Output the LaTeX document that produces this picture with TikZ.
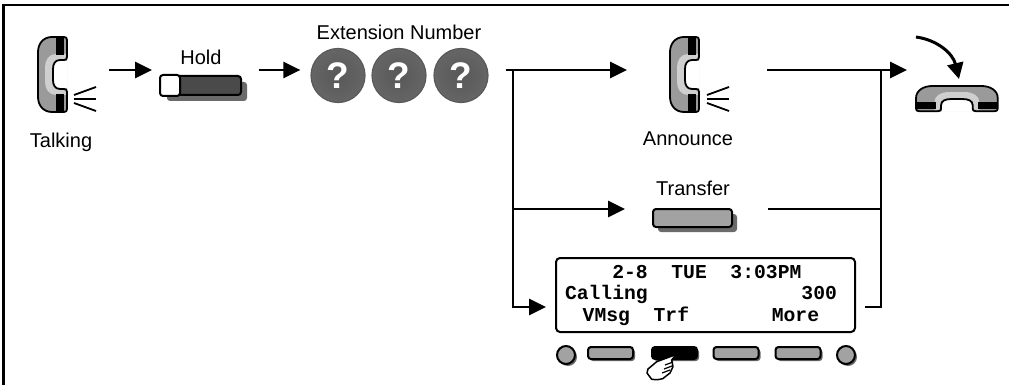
\documentclass[tikz,border=0pt]{standalone}
\usepackage{fontspec}
\setmainfont{Liberation Sans}
\setmonofont{Liberation Mono}
\usetikzlibrary{arrows.meta}
\usetikzlibrary{shadows}

\definecolor{bodygray}{HTML}{9A9A9A}
\definecolor{stripgray}{HTML}{CFCFCF}
\definecolor{keygray}{HTML}{A2A2A2}
\definecolor{holddark}{HTML}{4A4A4A}
\definecolor{ballgray}{HTML}{585858}
\definecolor{shadegray}{HTML}{6A6A6A}

\tikzset{
  flow/.style = {line width=2.8pt, -{Triangle[length=17pt,width=16pt]}},
  wire/.style = {line width=2.3pt},
  ghost/.style = {inner sep=0pt, outer sep=0pt},
  caption/.style = {anchor=base, inner sep=0pt, font=\fontsize{20}{23}\selectfont},
  keycap/.style = {draw=black, line width=2pt, rounded corners=3pt, inner sep=0pt,
    drop shadow={shadow xshift=#1, shadow yshift=-#1, fill=shadegray, opacity=1}},
  softkey/.style = {keycap=2pt, fill=keygray, minimum width=45pt, minimum height=12pt},
  softdot/.style = {keycap=2pt, circle, rounded corners=0pt, fill=keygray, minimum size=18pt},
  qball/.style = {circle, inner color=ballgray, outer color=ballgray!92!white, draw=black!65, line width=1.2pt,
    inner sep=0pt, minimum size=54pt, text=white, font=\fontsize{37}{37}\selectfont\bfseries},
  handset/.pic = {
    \fill[bodygray]
      (14,0) -- (26,0) .. controls (28,0) and (29,1) .. (29,3) -- (29,72)
      .. controls (29,74) and (28,75) .. (26,75) -- (14,75)
      .. controls (5,75) and (0,68) .. (0,60) -- (0,15)
      .. controls (0,7) and (5,0) .. (14,0) -- cycle;
    \fill[stripgray]
      (28,17) -- (18,17) .. controls (11,17) and (7,23) .. (7,30) -- (7,45)
      .. controls (7,52) and (11,58) .. (18,58) -- (28,58) -- (28,52) -- (22,52)
      .. controls (17,52) and (15,48) .. (15,43) -- (15,32)
      .. controls (15,27) and (17,23) .. (22,23) -- (28,23) -- cycle;
    \fill[black] (18,0) rectangle (26,18);
    \fill[black] (18,57) rectangle (26,75);
    \fill[white] (29.5,23.8) -- (22,23.8) .. controls (17,23.8) and (15.8,27) .. (15.8,32) -- (15.8,43)
      .. controls (15.8,48) and (17,51.2) .. (22,51.2) -- (29.5,51.2) -- cycle;
    \draw[line width=1.8pt, line join=round]
      (14,0) -- (26,0) .. controls (28,0) and (29,1) .. (29,3) -- (29,20)
      .. controls (29,22) and (28,23) .. (26,23) -- (22,23)
      .. controls (17,23) and (15,27) .. (15,32) -- (15,43)
      .. controls (15,48) and (17,52) .. (22,52) -- (26,52)
      .. controls (28,52) and (29,53) .. (29,55) -- (29,72)
      .. controls (29,74) and (28,75) .. (26,75) -- (14,75)
      .. controls (5,75) and (0,68) .. (0,60) -- (0,15)
      .. controls (0,7) and (5,0) .. (14,0) -- cycle;
  },
  voicelines/.pic = {
    \draw[line width=1.8pt] (0,8) -- (22,0);
    \draw[line width=1.8pt] (0,12) -- (22,12);
    \draw[line width=1.8pt] (0,16) -- (22,24);
  }
}

\begin{document}
\begin{tikzpicture}[x=1pt,y=-1pt]
  \useasboundingbox (0,0) rectangle (1009,385);
  % frame
  \draw[line width=2.2pt] (3.5,385) -- (3.5,5) -- (1009,5);

  \coordinate (rowa) at (0,70);
  \coordinate (rowb) at (0,209);
  \coordinate (rowc) at (0,307);
  \coordinate (split) at (513,70);
  \coordinate (merge) at (881,70);
  \coordinate (swingstart) at (916,37);
  \coordinate (swingend) at (959,79);

  % the stations
  \node[ghost, minimum width=72pt, minimum height=75pt] (talk) at (73,74.5) {};
  \pic at (38,37) {handset};
  \pic at (74,87) {voicelines};
  \node[caption] (talktext) at (61,147) {Talking};

  \node[keycap=6pt, fill=holddark, minimum width=80pt, minimum height=19pt] (hold) at (201,85.5) {};
  \draw[line width=2pt, fill=white, rounded corners=3pt] (hold.north west) rectangle ([xshift=20pt]hold.south west);
  \node[caption] (holdtext) at (201,65) {Hold};

  \node[qball] (ballone) at (338,75.5) {?};
  \node[qball] (balltwo) at (399,75.5) {?};
  \node[qball] (ballthree) at (461,75.5) {?};
  \node[caption] (exttext) at (399,40) {Extension Number};

  \node[ghost, minimum width=140pt, minimum height=75pt] (announce) at (697,74.5) {};
  \pic at (670,37) {handset};
  \pic at (707,87) {voicelines};
  \node[caption] (announcetext) at (688,146) {Announce};

  \node[keycap=5pt, fill=keygray, minimum width=79pt, minimum height=18pt] (transfer) at (692.5,218) {};
  \node[caption] (transfertext) at (693,195) {Transfer};

  \node[draw, line width=2pt, rounded corners=4pt, inner xsep=9pt, inner ysep=0pt,
    text width=281pt, minimum height=74pt, align=left,
    font=\fontsize{19.7}{21.5}\selectfont\ttfamily\bfseries] (lcd) at (705.5,295)
    {\spaceskip=0pt ~~~~2-8~~TUE~~3:03PM\\Calling~~~~~~~~~~~~~300\\\hspace*{17.7pt}VMsg~~Trf~~~~~~~More};

  \node[ghost, minimum width=90pt, minimum height=26pt] (hangup) at (952,99) {};
  \begin{scope}[shift={(916,86)},x={(0pt,-0.87pt)},y={(1.09pt,0pt)}]
    \pic at (0,0) {handset};
  \end{scope}

  % soft keys
  \node[softdot] (dotleft) at (566,355) {};
  \foreach \name/\xpos in {keya/610.5,keyc/736,keyd/798} {
    \node[softkey] (\name) at (\xpos,353) {};
  }
  \node[softkey, fill=black] (keyb) at (674.5,353) {};
  \node[softdot] (dotright) at (846,355) {};
  \filldraw[fill=white, line width=1.5pt, line join=round]
    (676.7,354.3) -- (656.7,361.7) -- (648,369) -- (647,373) -- (651.7,379.3)
    .. controls (657,380) and (660,379.5) .. (662.7,378.7) -- (670,373) -- (673,366.7) -- (671.7,360) -- cycle;
  \draw[line width=1.2pt] (665,365) -- (673,362);
  \draw[line width=1.2pt] (664,369) -- (672,366);
  \draw[line width=1.2pt] (662,373) -- (670,370);

  % connectors
  \draw[flow] (talk.east |- rowa) -- ([xshift=-8pt]hold.west |- rowa);
  \draw[flow, shorten <=17pt, shorten >=10pt] (hold.east |- rowa) -- (ballone.west |- rowa);
  \draw[flow, shorten <=17pt] (ballthree.east |- rowa) -- (announce.west |- rowa);
  \draw[flow, shorten >=27pt] (split) |- (transfer.west |- rowb);
  \draw[flow, shorten >=9pt] (split) |- (lcd.west |- rowc);
  \draw[flow] (announce.east |- rowa) -- (hangup.west |- rowa);
  \draw[wire, shorten <=35pt] (transfer.east |- rowb) -- (merge |- rowb);
  \draw[wire, shorten <=9pt] (lcd.east |- rowc) -| (merge);
  \draw[line width=3pt, -{Triangle[length=16pt,width=16pt]}] (swingstart) .. controls (938,40) and (953,54) .. (swingend);
\end{tikzpicture}
\end{document}
